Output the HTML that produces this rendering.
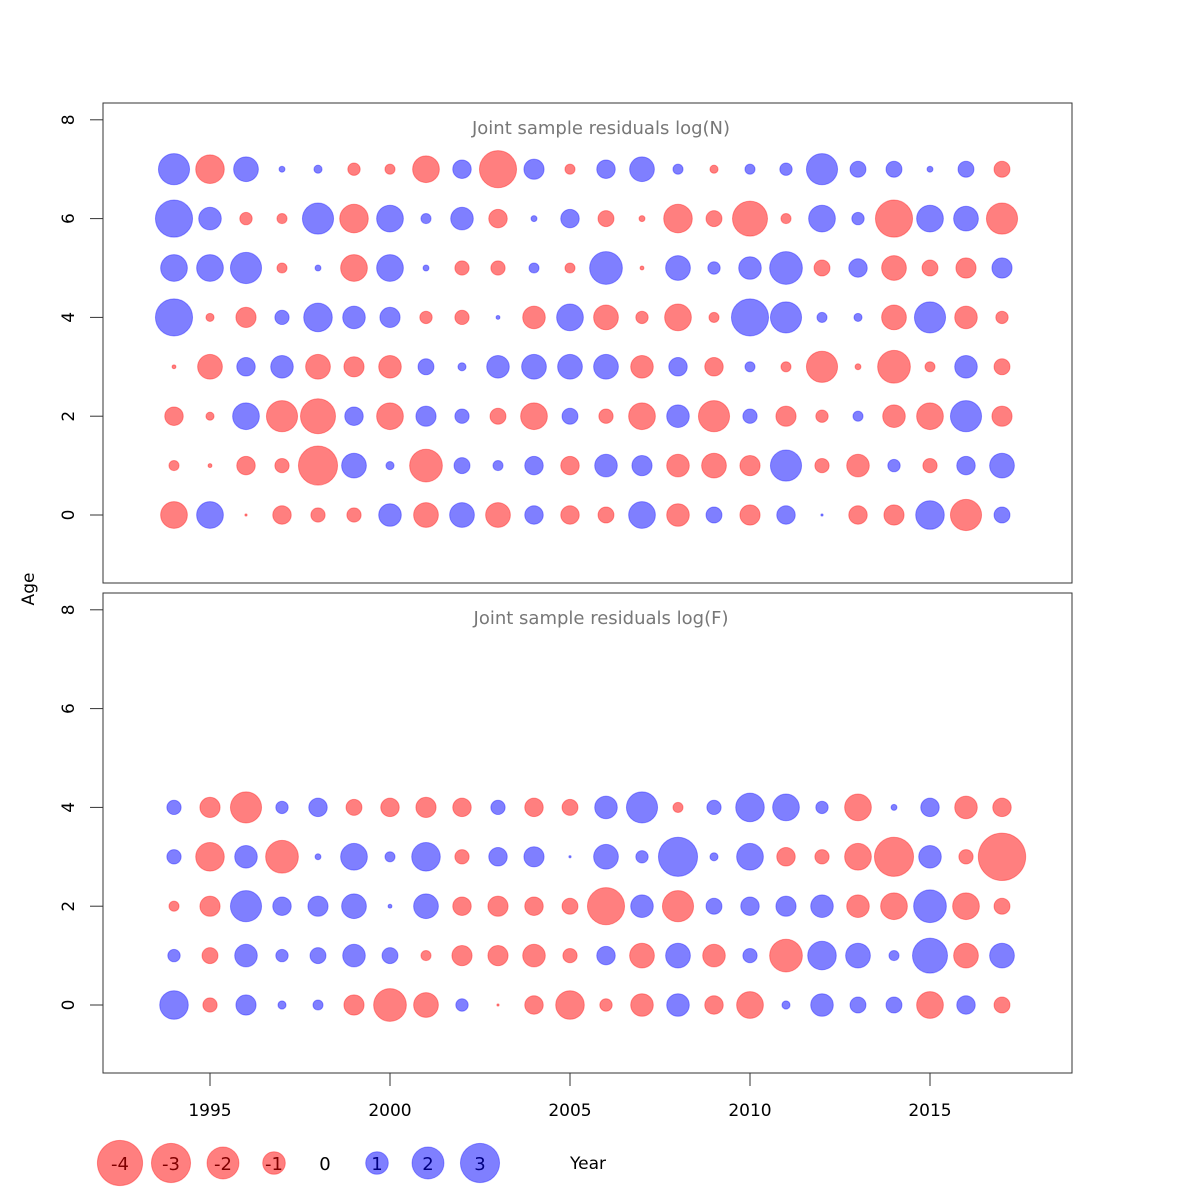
<!DOCTYPE html>
<html><head><meta charset="utf-8"><style>
body{margin:0;background:#fff}
svg{display:block;font-family:"DejaVu Sans","Liberation Sans",sans-serif}
</style></head><body>
<svg id="chart" width="1200" height="1200" viewBox="0 0 1200 1200" xmlns="http://www.w3.org/2000/svg">
<rect width="1200" height="1200" fill="#fff"/>
</svg>
<script>
const years = [1994,1995,1996,1997,1998,1999,2000,2001,2002,2003,2004,2005,2006,2007,2008,2009,2010,2011,2012,2013,2014,2015,2016,2017];
const xTicks = [1995,2000,2005,2010,2015];
const yTicks = [0,2,4,6,8];
const legendValues = [-4,-3,-2,-1,0,1,2,3];
// top panel log(N) residuals, ages 0..7 (negative = red)
const nAge0 = [-1.4,1.4,-0.01,-0.67,-0.4,-0.4,1,-1.2,1.2,-1.2,0.67,-0.67,-0.5,1.4,-1,0.5,-0.8,0.67,0.01,-0.67,-0.8,1.6,-1.9,0.5];
const nAge1 = [-0.2,-0.03,-0.67,-0.4,-3,1.2,0.13,-2.1,0.5,0.2,0.67,-0.67,1,0.8,-1,-1.2,-0.8,1.9,-0.4,-1,0.3,-0.4,0.67,1.2];
const nAge2 = [-0.67,-0.13,1.4,-1.9,-2.4,0.67,-1.4,0.8,0.4,-0.5,-1.4,0.5,-0.4,-1.4,1,-1.9,0.4,-0.8,-0.3,0.2,-1,-1.4,1.9,-0.8];
const nAge3 = [-0.03,-1.2,0.67,1,-1.2,-0.8,-1,0.5,0.13,1,1.2,1.2,1.2,-1,0.67,-0.67,0.2,-0.2,-1.9,-0.07,-2.1,-0.2,1,-0.5];
const nAge4 = [2.7,-0.13,-0.8,0.4,1.6,1,0.8,-0.3,-0.4,0.03,-1,1.4,-1.2,-0.3,-1.4,-0.2,2.7,1.9,0.2,0.13,-1.2,1.9,-1,-0.3];
const nAge5 = [1.4,1.4,1.9,-0.2,0.07,-1.4,1.4,0.07,-0.4,-0.4,0.2,-0.2,2.1,-0.03,1.2,0.3,1,2.1,-0.5,0.67,-1.2,-0.5,-0.8,0.8];
const nAge6 = [2.7,1,-0.3,-0.2,1.9,-1.6,1.4,0.2,1,-0.67,0.07,0.67,-0.5,-0.07,-1.6,-0.5,-2.4,-0.2,1.4,0.3,-2.7,1.4,1.2,-1.9];
const nAge7 = [1.9,-1.6,1.2,0.07,0.13,-0.3,-0.2,-1.4,0.67,-2.7,0.8,-0.2,0.67,1.2,0.2,-0.13,0.2,0.3,1.9,0.5,0.5,0.07,0.5,-0.5];
// bottom panel log(F) residuals, ages 0..4
const fAge0 = [1.6,-0.4,0.8,0.13,0.2,-0.8,-2.1,-1.2,0.3,-0.01,-0.67,-1.6,-0.3,-1,1,-0.67,-1.4,0.13,1,0.5,0.5,-1.4,0.67,-0.5];
const fAge1 = [0.3,-0.5,1,0.3,0.5,1,0.5,-0.2,-0.8,-0.8,-1,-0.4,0.67,-1.2,1.2,-1,0.4,-2.1,1.6,1.2,0.2,2.4,-1.2,1.2];
const fAge2 = [-0.2,-0.8,1.9,0.67,0.8,1.2,0.03,1.2,-0.67,-0.8,-0.67,-0.5,-2.7,1,-1.9,0.5,0.67,0.8,1,-1,-1.4,2.1,-1.4,-0.5];
const fAge3 = [0.4,-1.6,1,-2.1,0.07,1.4,0.2,1.6,-0.4,0.67,0.8,0.01,1.2,0.3,3,0.13,1.4,-0.67,-0.4,-1.4,-3,1,-0.4,-4.4];
const fAge4 = [0.4,-0.8,-1.9,0.3,0.67,-0.5,-0.67,-0.8,-0.67,0.4,-0.67,-0.5,1,1.9,-0.2,0.4,1.6,1.4,0.3,-1.4,0.07,0.67,-1,-0.67];
const panelN = [nAge0,nAge1,nAge2,nAge3,nAge4,nAge5,nAge6,nAge7];
const panelF = [fAge0,fAge1,fAge2,fAge3,fAge4];

const svg = document.getElementById('chart');
const NS = 'http://www.w3.org/2000/svg';
function mk(tag, attrs, parent){const e=document.createElementNS(NS,tag);for(const k in attrs)e.setAttribute(k,attrs[k]);(parent||svg).appendChild(e);return e;}
const xScale = y => 210 + (y-1995)*36;
const rScale = v => 11.3*Math.sqrt(Math.abs(v));
const RED='rgba(255,0,0,0.5)', BLUE='rgba(0,0,255,0.5)';

const panels = [
  {top:103, bottom:583, zero:515, title:'Joint sample residuals log(N)', data:panelN, name:'panel-log-n'},
  {top:593, bottom:1073, zero:1005, title:'Joint sample residuals log(F)', data:panelF, name:'panel-log-f'}
];
panels.forEach(p=>{
  const g = mk('g',{});
  
  
  const yScale = a => p.zero - a*49.4;
  const frame = mk('rect',{x:103,y:p.top,width:969,height:p.bottom-p.top,fill:'none',stroke:'#333','stroke-width':1},g);
  
  
  const t = mk('text',{x:601,y:p.top+31,'text-anchor':'middle','font-size':18,fill:'#777'},g);
  t.textContent = p.title;
  
  
  yTicks.forEach(v=>{
    const y = yScale(v);
    const tk = mk('line',{x1:90,x2:103,y1:y,y2:y,stroke:'#333'},g);
    
    
    const lb = mk('text',{x:0,y:0,transform:`translate(74 ${y}) rotate(-90)`,'text-anchor':'middle','font-size':17,fill:'#000'},g);
    lb.textContent = v;
    
    
  });
  p.data.forEach((row,age)=>{
    row.forEach((v,i)=>{
      const c = mk('circle',{cx:xScale(years[i]),cy:yScale(age),r:rScale(v),fill:v<0?RED:BLUE,stroke:v<0?'rgba(255,0,0,0.35)':'rgba(0,0,255,0.35)','stroke-width':1},g);
      
      
    });
  });
});
const xa = mk('line',{x1:210,x2:930,y1:1073,y2:1073,stroke:'#333'});


xTicks.forEach(v=>{
  const x = xScale(v);
  const tk = mk('line',{x1:x,x2:x,y1:1073,y2:1086,stroke:'#333'});
  
  
  const lb = mk('text',{x:x,y:1116,'text-anchor':'middle','font-size':17});
  lb.textContent = v;
  
  
});
const yt = mk('text',{transform:'translate(34 589) rotate(-90)','text-anchor':'middle','font-size':17});
yt.textContent='Age';


const xt = mk('text',{x:588,y:1169,'text-anchor':'middle','font-size':17});
xt.textContent='Year';


const legendX = [120,171,223,274,325,377,428,480];
legendValues.forEach((v,i)=>{
  const g = mk('g',{});
  
  
  if(v!==0){
    mk('circle',{cx:legendX[i],cy:1163,r:rScale(v),fill:v<0?RED:BLUE,stroke:v<0?'rgba(255,0,0,0.35)':'rgba(0,0,255,0.35)'},g);
  }
  const t = mk('text',{x:legendX[i],y:1170,'text-anchor':'middle','font-size':18,fill:v<0?'#800000':(v>0?'#000080':'#000')},g);
  t.textContent = v;
});
</script>
</body></html>
